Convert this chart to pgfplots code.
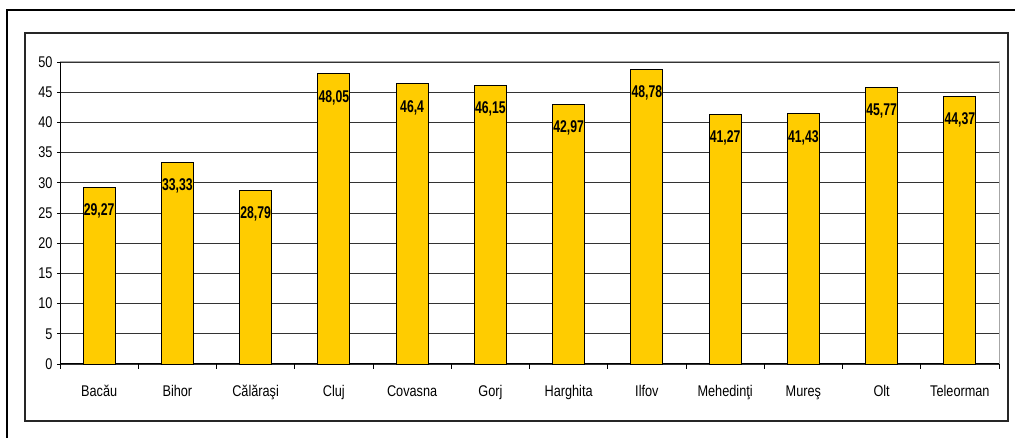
\documentclass[border=0pt]{standalone}
\usepackage{fontspec}
\setmainfont{Liberation Sans}
\newfontfamily\narrow[FakeStretch=0.82]{Liberation Sans}
\newfontfamily\narrowb[FakeStretch=0.72]{Liberation Sans Bold}
\usepackage{pgfplots}
\pgfplotsset{compat=1.18}
\definecolor{bargold}{HTML}{FFCC00}
\pgfplotstableread{
x y
0 29.27
1 33.33
2 28.79
3 48.05
4 46.4
5 46.15
6 42.97
7 48.78
8 41.27
9 41.43
10 45.77
11 44.37
}\datatable
\begin{document}
\begin{tikzpicture}
\useasboundingbox (0pt,0pt) rectangle (1015pt,438pt);
\draw[line width=2pt] (7pt,-5pt) -- (7pt,428pt) -- (1020pt,428pt);
\draw[line width=1.2pt, black!85] (25pt,17pt) rectangle (1008pt,405pt);
\begin{axis}[
  at={(60pt,74pt)}, anchor=south west,
  scale only axis, width=939pt, height=302pt,
  ybar, bar width=32pt,
  xmin=-0.5, xmax=11.5, ymin=0, ymax=50,
  ytick={0,5,...,50},
  xtick={0,...,11},
  xticklabels={Bacău,Bihor,Călăraşi,Cluj,Covasna,Gorj,Harghita,Ilfov,Mehedinţi,Mureş,Olt,Teleorman},
  major x tick style={draw=none},
  extra x ticks={-0.5,0.5,...,11.5},
  extra x tick labels={},
  extra x tick style={major tick length=5pt, major x tick style={draw=black, line width=0.8pt}, xmajorgrids=false},
  tick align=outside,
  major tick length=3pt,
  tick style={black, line width=0.8pt},
  axis x line*=bottom, axis y line*=left,
  axis line style={-, black, line width=1pt},
  ymajorgrids, grid style={black!80, line width=0.7pt},
  /pgf/number format/assume math mode=true,
  /pgf/number format/use comma,
  xticklabel style={font=\narrow\fontsize{15.5}{15.5}\selectfont, anchor=base, yshift=-30pt},
  yticklabel style={font=\narrow\fontsize{15.5}{15.5}\selectfont, xshift=-1pt},
  nodes near coords,
  every node near coord/.append style={font=\narrowb\fontsize{17}{17}\selectfont, anchor=north, inner sep=0pt, yshift=-16pt},
  clip=false,
]
\addplot[fill=bargold, draw=black, line width=0.8pt] table[x=x,y=y] {\datatable};
\draw[gray!70, line width=1pt] (rel axis cs:0,1) -- (rel axis cs:1,1) -- (rel axis cs:1,0);
\end{axis}
\end{tikzpicture}
\end{document}
